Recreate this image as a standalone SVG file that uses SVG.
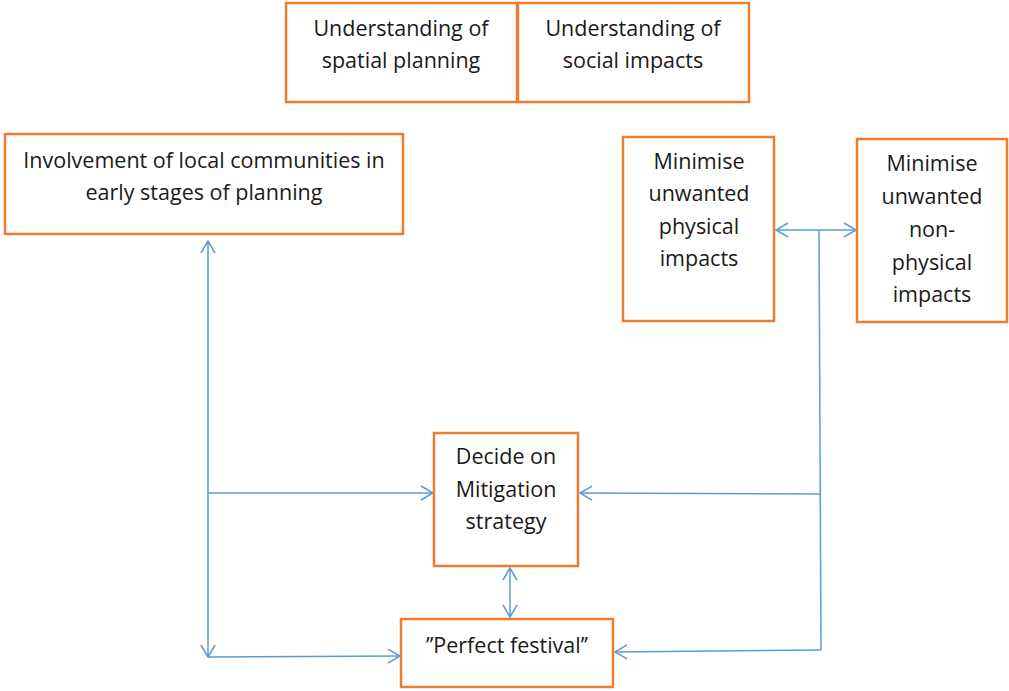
<svg xmlns="http://www.w3.org/2000/svg" width="1009" height="691" viewBox="0 0 1009 691">
<style>
.box{fill:#fff;stroke:#ED7D31;stroke-width:2.5}
.t{font-family:"Open Sans","Liberation Sans",Arial,sans-serif;font-size:21.5px;fill:#1a1a1a;text-anchor:middle}
.c{fill:none;stroke:#5B9BD5;stroke-width:1.5}
</style>
<defs>
<marker id="ah" viewBox="0 0 14 16" refX="13" refY="8" markerWidth="14" markerHeight="16" markerUnits="userSpaceOnUse" orient="auto-start-reverse">
<path d="M1,1 L13,8 L1,15" fill="none" stroke="#5B9BD5" stroke-width="1.5"/>
</marker>
</defs>
<rect width="1009" height="691" fill="#fff"/>
<g id="connectors">
<line class="c" x1="776" y1="230" x2="856" y2="230" marker-start="url(#ah)" marker-end="url(#ah)"/>
<line class="c" x1="819" y1="230" x2="821" y2="650"/>
<line class="c" x1="820" y1="494" x2="580" y2="493" marker-end="url(#ah)"/>
<line class="c" x1="821" y1="650" x2="615" y2="652" marker-end="url(#ah)"/>
<line class="c" x1="208" y1="241" x2="208" y2="657" marker-start="url(#ah)" marker-end="url(#ah)"/>
<line class="c" x1="208" y1="493" x2="433" y2="493" marker-end="url(#ah)"/>
<line class="c" x1="208" y1="657" x2="400" y2="656" marker-end="url(#ah)"/>
<line class="c" x1="510" y1="568" x2="510" y2="617" marker-start="url(#ah)" marker-end="url(#ah)"/>
</g>
<g id="spatial">
<rect class="box" x="286" y="3" width="231" height="99"/>
<text class="t" x="401" y="36">Understanding of</text>
<text class="t" x="401" y="68">spatial planning</text>
</g>
<g id="social">
<rect class="box" x="518" y="3" width="231" height="99"/>
<text class="t" x="633" y="36">Understanding of</text>
<text class="t" x="633" y="68">social impacts</text>
</g>
<g id="involvement">
<rect class="box" x="5" y="134" width="398" height="100"/>
<text class="t" x="204" y="168">Involvement of local communities in</text>
<text class="t" x="204" y="200">early stages of planning</text>
</g>
<g id="physical">
<rect class="box" x="623" y="137" width="151" height="184"/>
<text class="t" x="699" y="169">Minimise</text>
<text class="t" x="699" y="201">unwanted</text>
<text class="t" x="699" y="234">physical</text>
<text class="t" x="699" y="266">impacts</text>
</g>
<g id="nonphysical">
<rect class="box" x="857" y="139" width="150" height="183"/>
<text class="t" x="932" y="171">Minimise</text>
<text class="t" x="932" y="204">unwanted</text>
<text class="t" x="932" y="237">non-</text>
<text class="t" x="932" y="270">physical</text>
<text class="t" x="932" y="302">impacts</text>
</g>
<g id="decide">
<rect class="box" x="434" y="433" width="144" height="133"/>
<text class="t" x="506" y="464">Decide on</text>
<text class="t" x="506" y="497">Mitigation</text>
<text class="t" x="506" y="529">strategy</text>
</g>
<g id="perfect">
<rect class="box" x="401" y="619" width="212" height="68"/>
<text class="t" x="507" y="653">’’Perfect festival’’</text>
</g>
</svg>
